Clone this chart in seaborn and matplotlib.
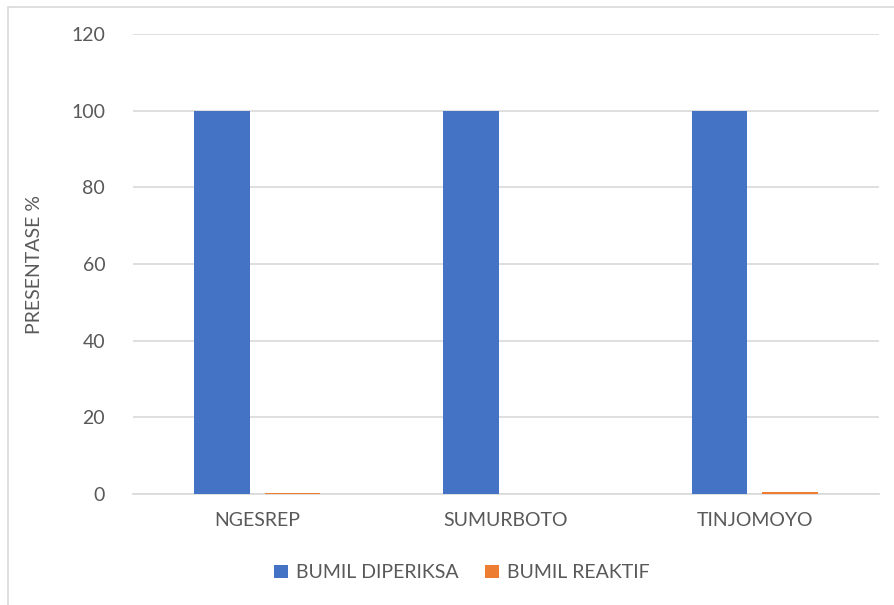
import matplotlib
matplotlib.use("Agg")
import matplotlib.pyplot as plt
from matplotlib.patches import Rectangle
import seaborn as sns
import pandas as pd

# Data
villages = ["NGESREP", "SUMURBOTO", "TINJOMOYO"]
bumil_diperiksa = [100, 100, 100]
bumil_reaktif = [0.3, 0.0, 0.5]
series_names = ["BUMIL DIPERIKSA", "BUMIL REAKTIF"]
y_ticks = [0, 20, 40, 60, 80, 100, 120]

df = pd.DataFrame({
    "Desa": villages * 2,
    "Seri": [series_names[0]] * 3 + [series_names[1]] * 3,
    "Nilai": bumil_diperiksa + bumil_reaktif,
})

sns.set_theme(style="white")
plt.rcParams["font.family"] = ["Lato", "DejaVu Sans"]

text_color = "#595959"
grid_color = "#D9D9D9"
palette = {series_names[0]: "#4472C4", series_names[1]: "#ED7D31"}

fig = plt.figure(figsize=(8.95, 6.05), dpi=100)
ax = fig.add_axes([133 / 895, 1 - 494 / 605, (879 - 133) / 895, (494 - 34) / 605])

sns.barplot(data=df, x="Desa", y="Nilai", hue="Seri", palette=palette,
            width=0.567, gap=0.21, saturation=1, linewidth=0,
            ax=ax, legend=True)
# keep the bars above the baseline so tiny values stay visible
for bar in ax.patches:
    bar.set_zorder(3)

ax.set_ylim(0, 120)
ax.set_yticks(y_ticks)
ax.yaxis.grid(True, color=grid_color, linewidth=1.2)
ax.set_axisbelow(True)
for side in ["top", "right", "left"]:
    ax.spines[side].set_visible(False)
ax.spines["bottom"].set_color(grid_color)
ax.spines["bottom"].set_linewidth(1.2)
ax.spines["bottom"].set_zorder(1)
ax.tick_params(axis="both", length=0, labelsize=14, colors=text_color)
ax.tick_params(axis="y", pad=20)
ax.tick_params(axis="x", pad=13)
ax.set_xlabel("")
ax.set_ylabel("PRESENTASE %", fontsize=14, color=text_color, labelpad=20)

handles, labels = ax.get_legend_handles_labels()
ax.get_legend().remove()
fig.legend(handles, labels, loc="center", bbox_to_anchor=(0.516, 0.053),
           ncol=2, frameon=False, fontsize=14, labelcolor=text_color,
           handlelength=0.7, handleheight=0.7, handletextpad=0.4,
           columnspacing=1.4)

# chart area outline
fig.patches.append(Rectangle((8 / 895, -0.1), 1.2, 1 - 6.5 / 605 + 0.1,
                             transform=fig.transFigure, fill=False,
                             edgecolor=grid_color, linewidth=1.2))

fig.savefig("out.png", dpi=100, facecolor="white")
